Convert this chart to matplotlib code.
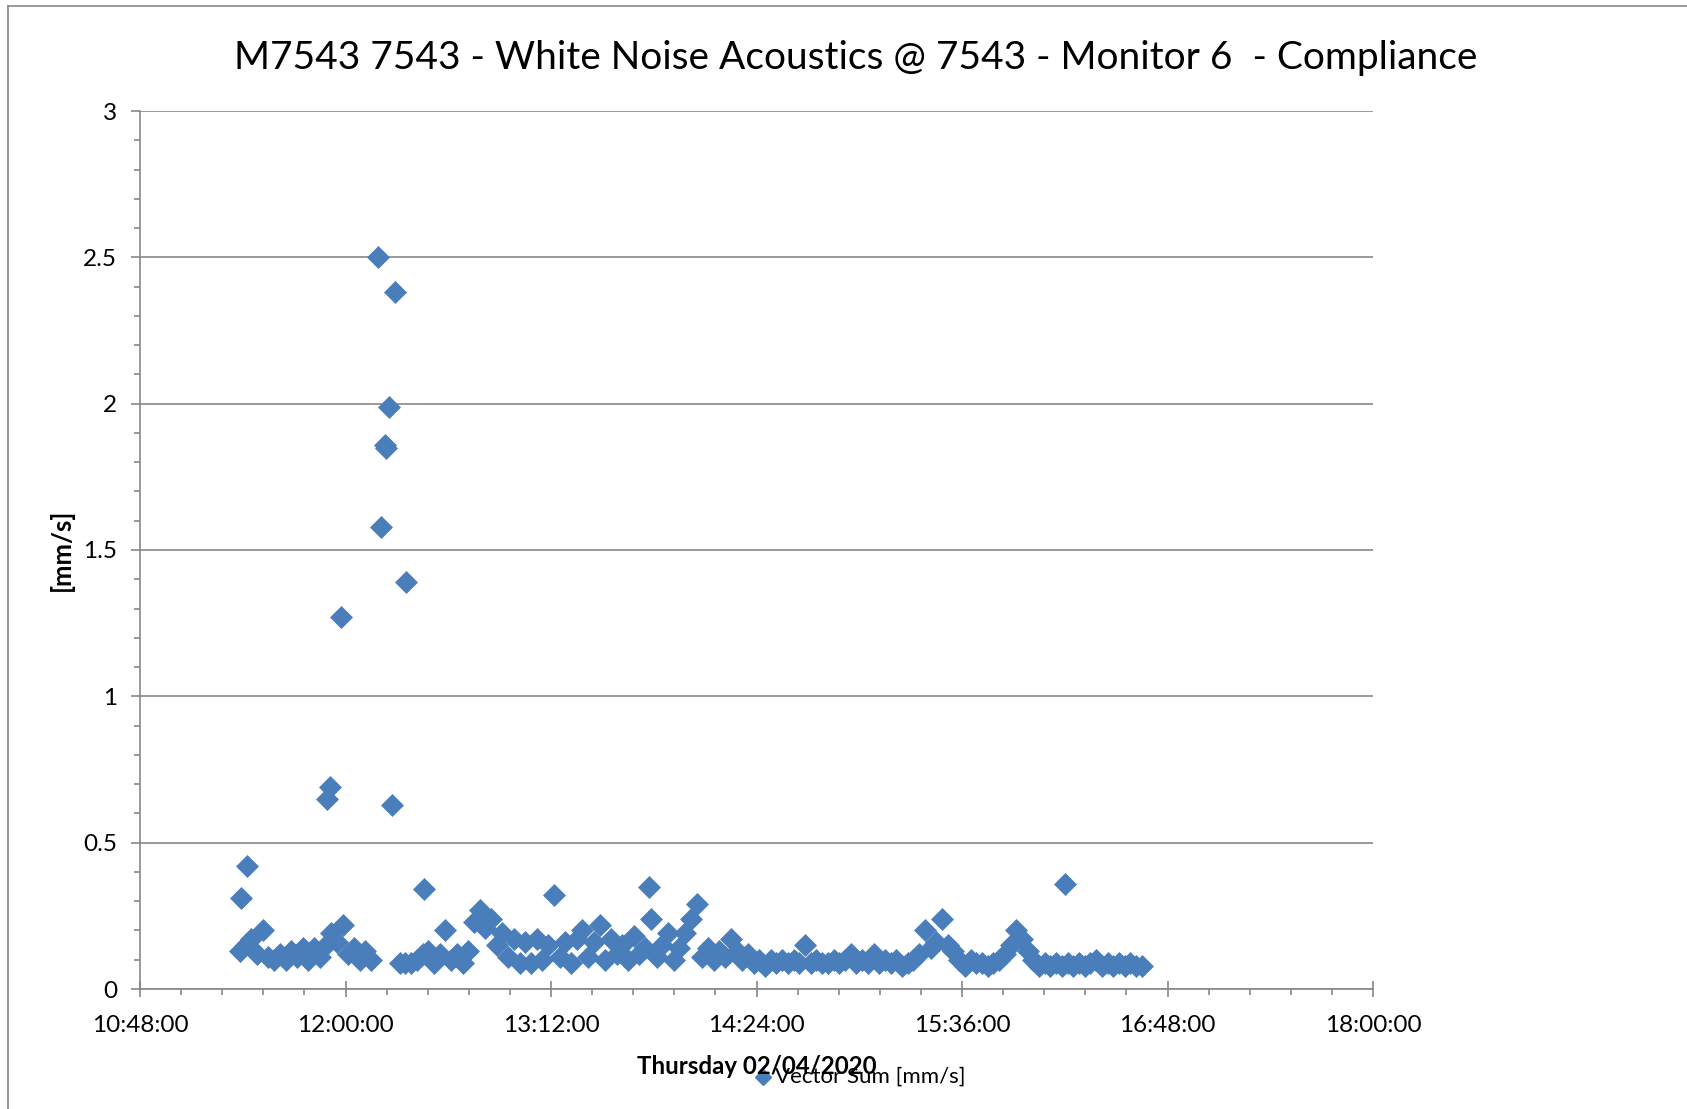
import numpy as np
import matplotlib
matplotlib.use("Agg")
import matplotlib.pyplot as plt
from matplotlib.ticker import MultipleLocator, FuncFormatter
from matplotlib.lines import Line2D

plt.rcParams['font.family'] = ['Lato', 'DejaVu Sans']

title = "M7543 7543 - White Noise Acoustics @ 7543 - Monitor 6  - Compliance"
x_label = "Thursday 02/04/2020"
y_label = "[mm/s]"
series_name = "Vector Sum [mm/s]"

# regular readings every 2 min from 11:23 (nan = no reading)
base_start = "11:23:00"
base_step_min = 2
base_vals = [
    0.13, 0.15, 0.17, 0.12, 0.20, 0.11, 0.10, 0.12, 0.10, 0.13,
    0.11, 0.14, 0.10, 0.14, 0.11, 0.15, 0.19, 0.16, 0.22, 0.12,
    0.14, 0.10, 0.13, 0.10, np.nan, np.nan, np.nan, np.nan, 0.09, 0.09,
    0.09, 0.10, 0.12, 0.13, 0.09, 0.12, 0.20, 0.10, 0.12, 0.09,
    0.13, 0.23, 0.27, 0.21, 0.24, 0.15, 0.19, 0.11, 0.17, 0.09,
    0.16, 0.09, 0.17, 0.10, 0.15, 0.32, 0.11, 0.16, 0.09, 0.17,
    0.20, 0.11, 0.16, 0.22, 0.10, 0.17, 0.12, 0.15, 0.10, 0.18,
    0.12, 0.14, 0.24, 0.11, 0.15, 0.19, 0.10, 0.14, 0.19, 0.24,
    0.29, 0.11, 0.14, 0.10, 0.13, 0.11, 0.17, 0.13, 0.10, 0.12,
    0.09, 0.10, 0.08, 0.10, 0.09, 0.10, 0.09, 0.10, 0.09, 0.15,
    0.09, 0.10, 0.09, 0.09, 0.10, 0.09, 0.10, 0.12, 0.09, 0.10,
    0.09, 0.12, 0.09, 0.10, 0.09, 0.10, 0.08, 0.09, 0.10, 0.12,
    0.20, 0.14, 0.16, 0.24, 0.15, 0.13, 0.10, 0.08, 0.10, 0.09,
    0.09, 0.08, 0.09, 0.10, 0.12, 0.15, 0.20, 0.17, 0.13, 0.10,
    0.08, 0.09, 0.08, 0.09, 0.08, 0.09, 0.08, 0.09, 0.08, 0.09,
    0.10, 0.08, 0.09, 0.08, 0.09, 0.08, 0.09, 0.08, 0.08,
]

# isolated readings in between
peak_times = ["11:23:24", "11:25:24", "11:53:24", "11:54:24", "11:58:18",
              "12:11:24", "12:12:18", "12:13:48", "12:14:12", "12:15:24",
              "12:16:24", "12:17:30", "12:21:18", "12:27:24", "13:46:30",
              "16:12:06"]
peak_vals = [0.31, 0.42, 0.65, 0.69, 1.27,
             2.50, 1.58, 1.86, 1.85, 1.99,
             0.63, 2.38, 1.39, 0.34, 0.35,
             0.36]

x_start, x_end, x_major = "10:48:00", "18:00:00", 72


def to_min(s):
    h, m, sec = (int(p) for p in s.split(":"))
    return h * 60 + m + sec / 60.0


def fmt_time(v, pos):
    v = int(round(v))
    return f"{v // 60:02d}:{v % 60:02d}:00"


base_t = to_min(base_start) + base_step_min * np.arange(len(base_vals))
t = np.concatenate([base_t, [to_min(s) for s in peak_times]])
v = np.concatenate([base_vals, peak_vals])
order = np.argsort(t)
t, v = t[order], v[order]

W, H = 1687, 1109
fig = plt.figure(figsize=(W / 100, H / 100), dpi=100)
ax = fig.add_axes([140 / W, 1 - 989 / H, 1233 / W, 878 / H])

blue = "#4A7EBB"
grey = "#878787"

ax.plot(t, v, linestyle="none", marker="D", ms=11, color=blue, mec=blue, mew=0.5)

ax.set_xlim(to_min(x_start), to_min(x_end))
ax.set_ylim(0, 3)
ax.xaxis.set_major_locator(MultipleLocator(x_major))
ax.xaxis.set_minor_locator(MultipleLocator(x_major / 5))
ax.xaxis.set_major_formatter(FuncFormatter(fmt_time))
ax.yaxis.set_major_locator(MultipleLocator(0.5))
ax.yaxis.set_minor_locator(MultipleLocator(0.1))
ax.yaxis.set_major_formatter(FuncFormatter(lambda y, p: f"{y:g}"))

ax.grid(axis="y", which="major", color=grey, lw=1.2)
ax.set_axisbelow(True)
for s in ["top", "right"]:
    ax.spines[s].set_visible(False)
for s in ["left", "bottom"]:
    ax.spines[s].set_color(grey)
    ax.spines[s].set_linewidth(1.2)

ax.tick_params(axis="x", which="major", direction="inout", length=11, width=1.2,
               color=grey, labelsize=17.5, pad=13)
ax.tick_params(axis="x", which="minor", direction="out", length=4.5, width=1.2, color=grey)
ax.tick_params(axis="y", which="major", direction="out", length=6.5, width=1.2,
               color=grey, labelsize=17.5, pad=10)
ax.tick_params(axis="y", which="minor", direction="out", length=4.5, width=1.2, color=grey)

fig.text(856 / W, 1 - 58 / H, title, ha="center", va="center", fontsize=28)
fig.text(61 / W, 1 - 550 / H, y_label, ha="center", va="center", rotation=90,
         fontsize=18.5, fontweight="bold")
fig.text(757 / W, 1 - 1066 / H, x_label, ha="center", va="center",
         fontsize=17.3, fontweight="bold")

# legend entry
fig.add_artist(Line2D([763 / W], [1 - 1077 / H], marker="D", ms=8, color=blue,
                      linestyle="none", transform=fig.transFigure))
fig.text(775 / W, 1 - 1077 / H, series_name, ha="left", va="center", fontsize=16)

# chart frame (only left and top edges fall inside the picture)
fig.add_artist(Line2D([8 / W, 8 / W], [0, 1 - 6 / H], color=grey, lw=1.2,
                      transform=fig.transFigure))
fig.add_artist(Line2D([8 / W, 1], [1 - 6 / H, 1 - 6 / H], color=grey, lw=1.2,
                      transform=fig.transFigure))

fig.savefig("out.png", dpi=100)
